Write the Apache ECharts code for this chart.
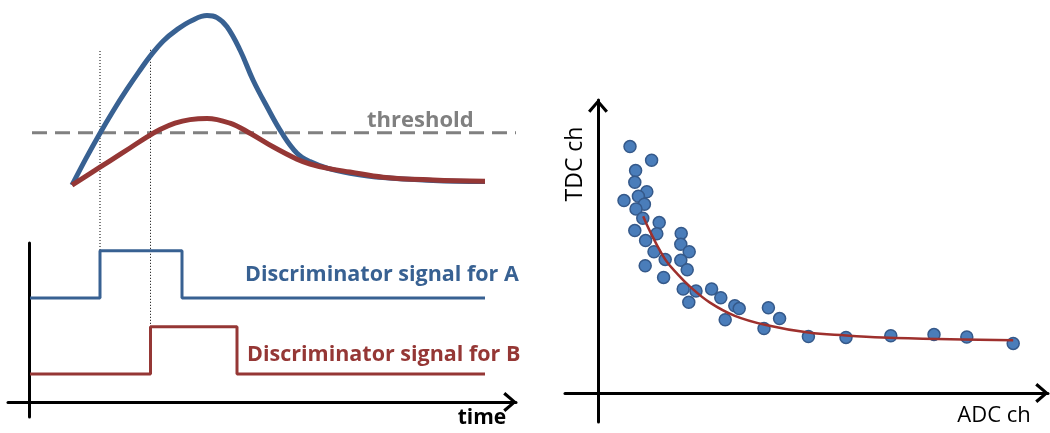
<!DOCTYPE html>
<html>
<head>
<meta charset="utf-8">
<script src="https://cdn.jsdelivr.net/npm/echarts@6/dist/echarts.min.js"></script>
<style>
  html, body { margin: 0; padding: 0; background: #ffffff; }
  #chart { width: 1050px; height: 433px; }
</style>
</head>
<body>
<div id="chart"></div>
<script>
// ---- Left panel: analogue pulses and discriminator outputs (time, amplitude) ----
const pulseA = [
  [8.6, 54.2], [11.4, 60.9], [14.2, 67.2], [16.8, 72.7], [19.6, 78.2], [22.0, 82.6],
  [24.2, 86.4], [26.8, 90.2], [29.6, 93.1], [32.6, 95.4], [35.6, 96.6], [37.6, 96.1],
  [39.6, 93.8], [42.2, 88.0], [44.8, 80.5], [47.6, 73.8], [50.6, 67.2], [53.6, 62.2],
  [56.2, 60.1], [59.8, 58.4], [64.2, 57.2], [70.8, 56.1], [80.8, 55.4], [91.2, 55.1]
];
const pulseB = [
  [8.6, 54.2], [12.2, 57.1], [16.2, 60.3], [20.2, 63.5], [23.4, 66.1], [26.2, 68.1],
  [29.2, 69.7], [32.2, 70.6], [35.6, 70.9], [40.2, 69.7], [44.2, 67.2], [48.8, 63.8],
  [53.6, 60.7], [56.2, 59.5], [59.8, 58.4], [64.2, 57.5], [70.8, 56.2], [80.8, 55.5],
  [91.2, 55.2]
];
const thresholdLevel = 67.3;
const thresholdSpan = [0.6, 97.4];
const signalA = [[0.2, 26], [14.2, 37.8], [30.6, 26], [91.2, 26]];
const signalB = [[0.2, 7], [24.3, 18.8], [41.6, 7], [91.2, 7]];
const crossingA = [[14.2, 26], [14.2, 88.2]];
const crossingB = [[24.3, 18.8], [24.3, 88.2]];

// ---- Right panel: TDC vs ADC correlation ----
const adcTdcPoints = [
  [8.0, 61.6], [13.4, 58.2], [9.4, 55.6], [9.2, 52.7], [12.2, 50.3], [6.5, 48.1],
  [10.1, 49.2], [11.6, 47.2], [9.5, 46.0], [11.2, 43.7], [15.3, 42.6], [9.2, 40.6],
  [14.7, 39.8], [11.9, 38.1], [14.0, 35.3], [16.8, 33.4], [11.8, 31.8], [16.4, 28.9],
  [20.8, 39.9], [20.7, 37.2], [22.8, 35.3], [20.7, 33.2], [22.3, 30.8], [21.3, 26.0],
  [24.5, 25.5], [22.7, 22.7], [28.4, 26.0], [30.7, 23.8], [34.2, 21.8], [35.3, 21.1],
  [31.8, 18.3], [42.6, 21.3], [45.4, 18.6], [41.5, 16.1], [52.6, 14.1], [62.0, 13.9],
  [73.2, 14.3], [84.0, 14.6], [92.2, 14.0], [103.8, 12.4]
];
const fitCurve = [
  [11.3, 44.2], [13.0, 40.4], [16.8, 33.4], [20.0, 29.6], [23.0, 26.6], [28.0, 22.6],
  [34.2, 19.3], [42.0, 17.0], [52.6, 15.1], [62.0, 14.4], [71.2, 13.9], [85.0, 13.5],
  [103.8, 13.2]
];

const BLUE = '#386192';
const RED = '#953735';
const GREY = '#808080';
const BLACK = '#000000';
const FONT = '"Open Sans", "Liberation Sans", sans-serif';

// open chevron arrow head, pointing along the axis
const chevron = 'path://M10 0 L20 11.5 L17.6 13.6 L10 4.6 L2.4 13.6 L0 11.5 Z';

function hiddenAxis(gridIndex, min, max) {
  return { type: 'value', gridIndex, min, max, show: false };
}
function arrowAxis(gridIndex, min, max, withArrow) {
  return {
    type: 'value', gridIndex, min, max,
    axisLine: {
      show: true, onZero: true,
      lineStyle: { color: BLACK, width: 3 },
      symbol: ['none', withArrow ? chevron : 'none'],
      symbolSize: [20, 13.6],
      symbolOffset: [0, -6]
    },
    axisTick: { show: false },
    axisLabel: { show: false },
    splitLine: { show: false }
  };
}

const chart = echarts.init(document.getElementById('chart'), null, { renderer: 'canvas' });

chart.setOption({
  animation: false,
  backgroundColor: '#ffffff',
  grid: [
    { left: 8, right: 534, top: 5, bottom: 16 },     // signals
    { left: 8, right: 534, top: 243, bottom: 16 },   // left axes
    { left: 565, right: 2, top: 100, bottom: 11 }    // correlation
  ],
  xAxis: [
    hiddenAxis(0, -4.2, 97.4),
    arrowAxis(1, -4.2, 97.4, true),
    arrowAxis(2, -8.25, 112.5, true)
  ],
  yAxis: [
    hiddenAxis(0, -3.75, 99.25),
    arrowAxis(1, -3.75, 39.75, false),
    arrowAxis(2, -7.25, 73.25, true)
  ],
  series: [
    {
      type: 'line', xAxisIndex: 0, yAxisIndex: 0, symbol: 'none',
      data: [[thresholdSpan[0], thresholdLevel], [thresholdSpan[1], thresholdLevel]],
      lineStyle: { color: GREY, width: 3, type: [15, 8] }
    },
    {
      type: 'line', xAxisIndex: 0, yAxisIndex: 0, symbol: 'none', data: crossingA,
      lineStyle: { color: BLACK, width: 1, type: [1, 2] }
    },
    {
      type: 'line', xAxisIndex: 0, yAxisIndex: 0, symbol: 'none', data: crossingB,
      lineStyle: { color: BLACK, width: 1, type: [1, 2] }
    },
    {
      type: 'line', xAxisIndex: 0, yAxisIndex: 0, symbol: 'none', smooth: 0.4, data: pulseA,
      lineStyle: { color: BLUE, width: 5, cap: 'butt', join: 'round' }
    },
    {
      type: 'line', xAxisIndex: 0, yAxisIndex: 0, symbol: 'none', smooth: 0.4, data: pulseB,
      lineStyle: { color: RED, width: 5, cap: 'butt', join: 'round' }
    },
    {
      type: 'line', xAxisIndex: 0, yAxisIndex: 0, symbol: 'none', step: 'end', data: signalA,
      lineStyle: { color: BLUE, width: 3 }
    },
    {
      type: 'line', xAxisIndex: 0, yAxisIndex: 0, symbol: 'none', step: 'end', data: signalB,
      lineStyle: { color: RED, width: 3 }
    },
    {
      type: 'scatter', xAxisIndex: 2, yAxisIndex: 2, data: adcTdcPoints,
      symbol: 'circle', symbolSize: 12,
      itemStyle: { color: '#4A7DBA', borderColor: '#35598A', borderWidth: 1.5, opacity: 1 }
    },
    {
      type: 'line', xAxisIndex: 2, yAxisIndex: 2, symbol: 'none', smooth: 0.4, data: fitCurve,
      lineStyle: { color: '#9E302D', width: 2.5 }, z: 3
    }
  ],
  graphic: [
    { type: 'text', x: 367, y: 121, style: { text: 'threshold', font: 'bold 22px ' + FONT, fill: GREY, textAlign: 'left', textVerticalAlign: 'middle' } },
    { type: 'text', x: 245, y: 275, style: { text: 'Discriminator signal for A', font: 'bold 21.5px ' + FONT, fill: BLUE, textAlign: 'left', textVerticalAlign: 'middle' } },
    { type: 'text', x: 247, y: 355, style: { text: 'Discriminator signal for B', font: 'bold 21.5px ' + FONT, fill: RED, textAlign: 'left', textVerticalAlign: 'middle' } },
    { type: 'text', x: 482, y: 418, style: { text: 'time', font: 'bold 21px ' + FONT, fill: BLACK, textAlign: 'center', textVerticalAlign: 'middle' } },
    { type: 'text', x: 994, y: 416, style: { text: 'ADC ch', font: '22px ' + FONT, fill: BLACK, textAlign: 'center', textVerticalAlign: 'middle' } },
    { type: 'text', x: 575, y: 164, rotation: Math.PI / 2, style: { text: 'TDC ch', font: '23px ' + FONT, fill: BLACK, textAlign: 'center', textVerticalAlign: 'middle' } }
  ]
});
</script>
</body>
</html>
